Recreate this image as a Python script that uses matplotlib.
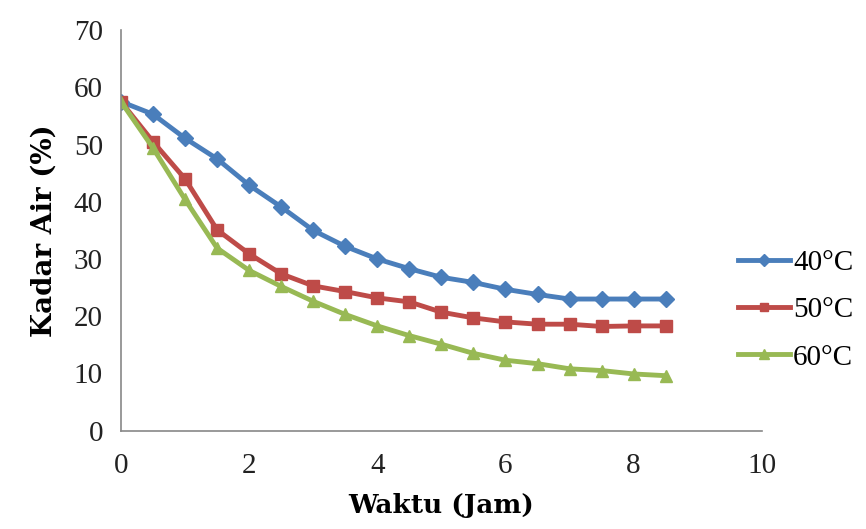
import matplotlib.pyplot as plt

waktu = [0, 0.5, 1, 1.5, 2, 2.5, 3, 3.5, 4, 4.5, 5, 5.5, 6, 6.5, 7, 7.5, 8, 8.5]
suhu_40 = [57.5, 55.3, 51.1, 47.5, 42.9, 39.1, 35.0, 32.2, 30.0, 28.3, 26.8, 25.9, 24.7, 23.8, 23.0, 23.0, 23.0, 23.0]
suhu_50 = [57.5, 50.5, 44.0, 35.1, 30.9, 27.4, 25.3, 24.3, 23.2, 22.5, 20.7, 19.7, 19.0, 18.6, 18.6, 18.2, 18.3, 18.3]
suhu_60 = [57.5, 49.4, 40.4, 31.9, 28.0, 25.2, 22.6, 20.3, 18.3, 16.6, 15.1, 13.5, 12.3, 11.7, 10.8, 10.5, 9.9, 9.6]
labels = ['40°C', '50°C', '60°C']

plt.rcParams['font.family'] = ['Liberation Serif', 'DejaVu Serif']

fig = plt.figure(figsize=(8.66, 5.29), dpi=100)
ax = fig.add_axes([0.1397, 0.186, 0.740, 0.757])

ax.plot(waktu, suhu_40, color='#4A7EBB', lw=3.5, marker='D', ms=8, label=labels[0])
ax.plot(waktu, suhu_50, color='#BE4B48', lw=3.5, marker='s', ms=8, label=labels[1])
ax.plot(waktu, suhu_60, color='#98B954', lw=3.5, marker='^', ms=9, label=labels[2])

ax.set_xlim(0, 10)
ax.set_ylim(0, 70)
ax.set_xticks(range(0, 11, 2))
ax.set_yticks(range(0, 71, 10))
ax.tick_params(length=0, labelsize=21, colors='#222222')
ax.tick_params(axis='x', pad=16)
ax.tick_params(axis='y', pad=13)
for s in ['top', 'right']:
    ax.spines[s].set_visible(False)
for s in ['left', 'bottom']:
    ax.spines[s].set_color('#888888')
    ax.spines[s].set_linewidth(1.2)

ax.set_xlabel('Waktu (Jam)', fontsize=19, fontweight='bold', family='DejaVu Serif', labelpad=10)
ax.set_ylabel('Kadar Air (%)', fontsize=20, fontweight='bold', family='DejaVu Serif', labelpad=12)

fig.legend(loc='center left', bbox_to_anchor=(0.852, 0.414), frameon=False, fontsize=21,
           borderpad=0, borderaxespad=0, handlelength=1.8, handletextpad=0.1,
           labelspacing=0.72, numpoints=1, markerscale=0.8)

fig.savefig('out.png', dpi=100)
